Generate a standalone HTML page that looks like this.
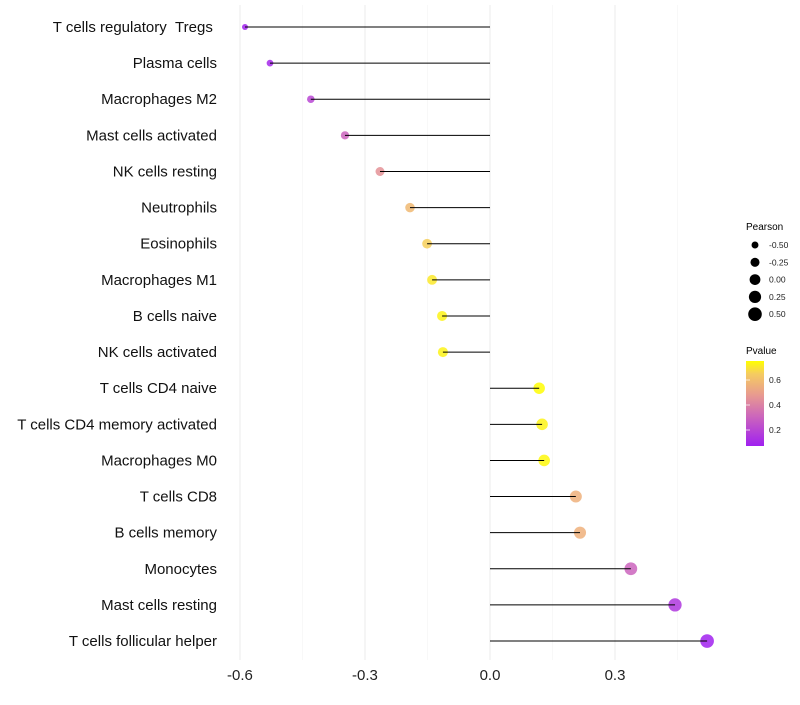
<!DOCTYPE html>
<html><head><meta charset="utf-8"><style>
body{margin:0;background:#fff;font-family:"Liberation Sans",sans-serif}
</style></head><body>
<svg id="chart" width="800" height="700" xmlns="http://www.w3.org/2000/svg">
<g id="grid"></g>
<g id="dots"></g>
<g id="marks"></g>
<g id="ylab"></g>
<g id="xlab"></g>
<g id="legend">
<text x="746" y="230" font-size="10">Pearson</text>
<defs><linearGradient id="pg" x1="0" y1="1" x2="0" y2="0">
<stop offset="0" stop-color="#a020f0"/><stop offset="0.35" stop-color="#cc66bb"/><stop offset="0.6" stop-color="#e89a90"/><stop offset="0.85" stop-color="#f5cc60"/><stop offset="1" stop-color="#ffff00"/></linearGradient></defs>
<text x="746" y="354" font-size="10">Pvalue</text>
<rect x="746" y="361" width="18" height="85" fill="url(#pg)"/>
</g>
</svg>
<script>
const categories=["T cells regulatory\u00a0\u00a0Tregs\u00a0","Plasma cells","Macrophages M2","Mast cells activated","NK cells resting","Neutrophils","Eosinophils","Macrophages M1","B cells naive","NK cells activated","T cells CD4 naive","T cells CD4 memory activated","Macrophages M0","T cells CD8","B cells memory","Monocytes","Mast cells resting","T cells follicular helper"];
const pearson=[-0.588,-0.528,-0.43,-0.348,-0.264,-0.192,-0.151,-0.139,-0.115,-0.113,0.118,0.125,0.130,0.206,0.216,0.338,0.444,0.521];
const pvalue=[0.08,0.1,0.2,0.3,0.45,0.58,0.65,0.7,0.72,0.72,0.74,0.72,0.73,0.55,0.55,0.3,0.15,0.08];
const xTicks=[-0.6,-0.3,0.0,0.3];
const xTickLabels=["-0.6","-0.3","0.0","0.3"];
const sizeLegendValues=[-0.5,-0.25,0,0.25,0.5];
const sizeLegendLabels=["-0.50","-0.25","0.00","0.25","0.50"];
const colorTicks=[0.2,0.4,0.6];

const NS="http://www.w3.org/2000/svg";
const x=v=>490+v*416.7;
const y=i=>27+i*36.12;
const pY=p=>380-(p-0.6)*125;
function sz(v){return Math.sqrt(Math.max(2.5,12+34*(v+0.5)));}
function col(p){const t=Math.max(0,Math.min(1,(p-0.072)/(0.744-0.072)));
 const st=[[0,[160,32,240]],[0.35,[204,102,187]],[0.6,[232,154,144]],[0.85,[245,204,96]],[1,[255,255,0]]];
 for(let k=1;k<st.length;k++){if(t<=st[k][0]){const [t0,c0]=st[k-1],[t1,c1]=st[k];const f=(t-t0)/(t1-t0);
 return `rgb(${c0.map((c,j)=>Math.round(c+(c1[j]-c)*f)).join(',')})`;}}return "rgb(255,255,0)";}
function mk(tag,at,parent){const e=document.createElementNS(NS,tag);for(const k in at)e.setAttribute(k,at[k]);parent.appendChild(e);return e;}
const grid=document.getElementById('grid'),dots=document.getElementById('dots'),marks=document.getElementById('marks'),ylab=document.getElementById('ylab'),xlab=document.getElementById('xlab'),leg=document.getElementById('legend');
[-0.45,-0.15,0.15,0.45].forEach(v=>{const l=mk('line',{x1:x(v),x2:x(v),y1:5,y2:660,stroke:'#f4f4f4','stroke-width':0.6},grid);

});
xTicks.forEach((v,i)=>{const l=mk('line',{x1:x(v),x2:x(v),y1:5,y2:660,stroke:'#ebebeb','stroke-width':1},grid);


const t=mk('text',{x:x(v),y:680,'font-size':15,'text-anchor':'middle',fill:'#222'},xlab);t.textContent=xTickLabels[i];

});
categories.forEach((c,i)=>{
const d=mk('circle',{cx:x(pearson[i]),cy:y(i),r:sz(pearson[i]),fill:col(pvalue[i]),'fill-opacity':0.85},dots);


const l=mk('line',{x1:x(0),x2:x(pearson[i]),y1:y(i),y2:y(i),stroke:'#000','stroke-width':1},marks);


const t=mk('text',{x:217,y:y(i)+5,'font-size':15,'text-anchor':'end',fill:'#111'},ylab);t.textContent=c;

});
sizeLegendValues.forEach((v,i)=>{const cy=245+i*17.3;
const d=mk('circle',{cx:755,cy:cy,r:sz(v),fill:'#000'},leg);


const t=mk('text',{x:769,y:cy+3,'font-size':8.5,fill:'#222'},leg);t.textContent=sizeLegendLabels[i];

});
colorTicks.forEach(p=>{const yy=pY(p);
const l=mk('line',{x1:746,x2:750,y1:yy,y2:yy,stroke:'#fff','stroke-width':0.7},leg);


const t=mk('text',{x:769,y:yy+3,'font-size':8.5,fill:'#222'},leg);t.textContent=p.toFixed(1);

});
</script>
</body></html>
